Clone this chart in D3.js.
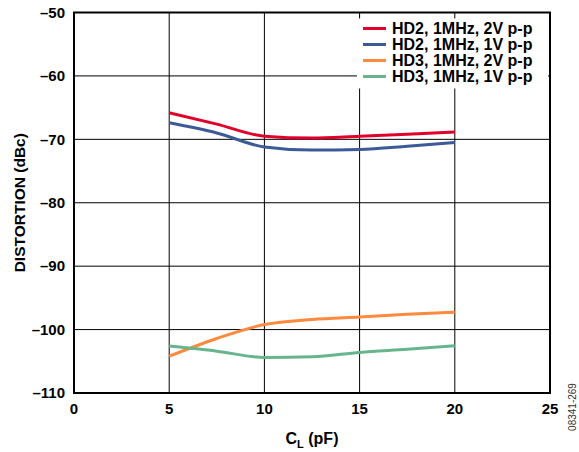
<!DOCTYPE html>
<html lang="en">
<head>
<meta charset="UTF-8">
<title>Distortion vs Load Capacitance</title>
<script src="https://d3js.org/d3.v7.min.js"></script>
<style>
body { margin: 0; background: #fff; }
svg { display: block; font-family: "Liberation Sans", Arial, sans-serif; }
.tick-label { font-size: 15px; font-weight: bold; fill: #000; }
.legend-label { font-size: 16px; font-weight: bold; fill: #000; }
.axis-title { font-weight: bold; fill: #000; }
.grid line { stroke: #000; stroke-width: 1; }
.curve { fill: none; stroke-width: 3; }
</style>
</head>
<body>
<svg width="579" height="452"></svg>
<script>
// data
const capValues = [5, 7.5, 10, 12.5, 15, 17.5, 20];
const hd2_2v = [-65.8, -67.6, -69.5, -69.8, -69.5, -69.2, -68.85];
const hd2_1v = [-67.4, -69.0, -71.2, -71.7, -71.6, -71.1, -70.5];
const hd3_2v = [-104.2, -101.4, -99.2, -98.4, -98.0, -97.6, -97.25];
const hd3_1v = [-102.6, -103.4, -104.4, -104.3, -103.6, -103.1, -102.55];

const seriesNames = ["HD2, 1MHz, 2V p-p", "HD2, 1MHz, 1V p-p", "HD3, 1MHz, 2V p-p", "HD3, 1MHz, 1V p-p"];
const seriesColors = ["#e0002a", "#3d5a98", "#ff8a3d", "#67b58c"];
const xTicks = [0, 5, 10, 15, 20, 25];
const yTicks = [-50, -60, -70, -80, -90, -100, -110];

const svg = d3.select("svg"),
      margin = {top: 12.5, right: 29, bottom: 59, left: 74},
      width = +svg.attr("width") - margin.left - margin.right,
      height = +svg.attr("height") - margin.top - margin.bottom;

const x = d3.scaleLinear().domain([0, 25]).range([0, width]);
const y = d3.scaleLinear().domain([-110, -50]).range([height, 0]);

const g = svg.append("g").attr("transform", `translate(${margin.left},${margin.top})`);

// grid
const grid = g.append("g").attr("class", "grid");
grid.selectAll(".vx").data(xTicks.slice(1, -1)).enter().append("line")
    .attr("x1", d => x(d)).attr("x2", d => x(d))
    .attr("y1", 0).attr("y2", height);
grid.selectAll(".hy").data(yTicks.slice(1, -1)).enter().append("line")
    .attr("x1", 0).attr("x2", width)
    .attr("y1", d => y(d)).attr("y2", d => y(d));

// curves
const line = d3.line()
    .x(d => x(d[0]))
    .y(d => y(d[1]))
    .curve(d3.curveMonotoneX);

[hd2_2v, hd2_1v, hd3_2v, hd3_1v].forEach(function(vals, i) {
  g.append("path")
    .attr("class", "curve")
    .attr("stroke", seriesColors[i])
    .attr("d", line(capValues.map((c, j) => [c, vals[j]])));
});

// legend (white box hides grid behind it)
const legend = g.append("g").attr("transform", "translate(283,6)");
legend.append("rect")
    .attr("x", 0).attr("y", 0)
    .attr("width", 191).attr("height", 70)
    .attr("fill", "#fff");
seriesNames.forEach(function(name, i) {
  const ly = 10 + i * 16;
  legend.append("line")
    .attr("x1", 6).attr("x2", 29)
    .attr("y1", ly).attr("y2", ly)
    .attr("stroke", seriesColors[i])
    .attr("stroke-width", 3);
  legend.append("text")
    .attr("class", "legend-label")
    .attr("x", 35).attr("y", ly)
    .attr("dy", "0.35em")
    .text(name);
});

// frame
g.append("rect")
    .attr("width", width).attr("height", height)
    .attr("fill", "none")
    .attr("stroke", "#000")
    .attr("stroke-width", 2);

// tick labels
g.selectAll(".ylab").data(yTicks).enter().append("text")
    .attr("class", "tick-label")
    .attr("x", -9)
    .attr("y", d => y(d))
    .attr("dy", "0.35em")
    .attr("text-anchor", "end")
    .text(d => d < 0 ? "\u2013" + Math.abs(d) : d);

g.selectAll(".xlab").data(xTicks).enter().append("text")
    .attr("class", "tick-label")
    .attr("x", d => x(d))
    .attr("y", height + 21)
    .attr("text-anchor", "middle")
    .text(d => d);

// axis titles
const xTitle = g.append("text")
    .attr("class", "axis-title")
    .style("font-size", "16px")
    .attr("x", width / 2)
    .attr("y", height + 50.5)
    .attr("text-anchor", "middle");
xTitle.append("tspan").text("C");
xTitle.append("tspan").attr("dy", 4).style("font-size", "11px").text("L");
xTitle.append("tspan").attr("dy", -4).text(" (pF)");

svg.append("text")
    .attr("class", "axis-title")
    .style("font-size", "15.5px")
    .attr("transform", `translate(25,${margin.top + height / 2}) rotate(-90)`)
    .attr("text-anchor", "middle")
    .text("DISTORTION (dBc)");

svg.append("text")
    .attr("transform", "translate(576,407) rotate(-90)")
    .attr("text-anchor", "middle")
    .style("font-size", "10px")
    .attr("fill", "#333")
    .text("08341-269");
</script>
</body>
</html>
